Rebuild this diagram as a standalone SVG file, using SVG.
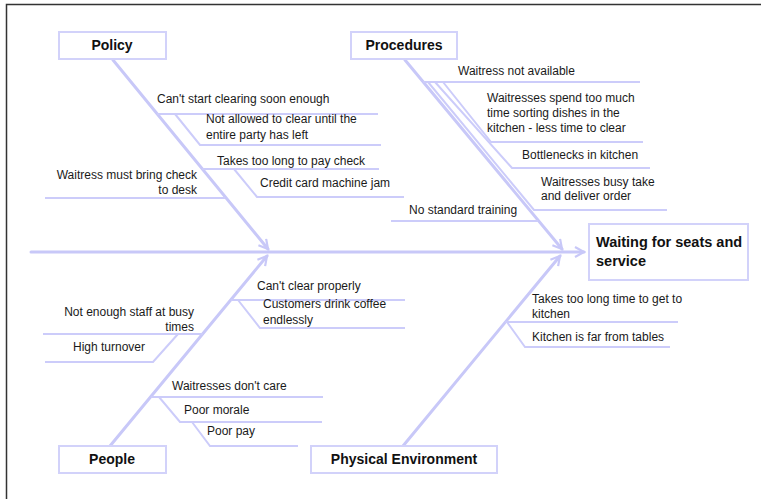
<svg xmlns="http://www.w3.org/2000/svg" width="761" height="499" viewBox="0 0 761 499">
  <defs>
    <marker id="chev" markerUnits="userSpaceOnUse" markerWidth="14" markerHeight="14" refX="10" refY="6" orient="auto">
      <path d="M1,1 L10,6 L1,11" fill="none" stroke="#c8c8f8" stroke-width="2.2"/>
    </marker>
  </defs>
  <style>
    .frame { stroke: #333; stroke-width: 1.5; fill: none; }
    .box { fill: #fff; stroke: #d2d2fa; stroke-width: 2; }
    .bone { stroke: #c8c8f8; stroke-width: 3; fill: none; stroke-linecap: round; }
    .rib { stroke: #ccccfa; stroke-width: 2; fill: none; }
    .cat { font-family: "Liberation Sans", Arial, sans-serif; font-size: 14px; font-weight: bold; fill: #111; text-anchor: middle; }
    .head { font-family: "Liberation Sans", Arial, sans-serif; font-size: 14.5px; font-weight: bold; fill: #111; }
    .lbl { font-family: "Liberation Sans", Arial, sans-serif; font-size: 12px; fill: #1a1a1a; }
    .rt { text-anchor: end; }
  </style>

  <rect width="761" height="499" fill="#fff"/>
  <path class="frame" d="M6.5,499 L6.5,4.5 L761,4.5"/>

  <!-- fishbone lines -->
  <g id="connectors">
    <!-- spine -->
    <line class="bone" x1="31" y1="252" x2="584" y2="252" marker-end="url(#chev)"/>
    <!-- main bones -->
    <line class="bone" x1="113" y1="60" x2="268" y2="249" marker-end="url(#chev)"/>
    <line class="bone" x1="405" y1="60" x2="562" y2="249" marker-end="url(#chev)"/>
    <line class="bone" x1="110" y1="446" x2="267" y2="256" marker-end="url(#chev)"/>
    <line class="bone" x1="403" y1="446" x2="560" y2="256" marker-end="url(#chev)"/>

    <!-- Policy ribs -->
    <path class="rib" d="M157,114 H378"/>
    <path class="rib" d="M175,114 L200,145 H381"/>
    <path class="rib" d="M202,169 H379"/>
    <path class="rib" d="M234,169 L257,197 H404"/>
    <path class="rib" d="M45,198 H225"/>

    <!-- Procedures ribs -->
    <path class="rib" d="M423,82 H640"/>
    <path class="rib" d="M443,82 L491,142 H643"/>
    <path class="rib" d="M435,82 L512,168 H650"/>
    <path class="rib" d="M428,82 L534,210 H667"/>
    <path class="rib" d="M391,221 H538"/>

    <!-- People ribs -->
    <path class="rib" d="M231,300 H405"/>
    <path class="rib" d="M238,300 L260,328 H405"/>
    <path class="rib" d="M43,334 H203"/>
    <path class="rib" d="M45,362 H153 L178,334"/>
    <path class="rib" d="M151,397 H323"/>
    <path class="rib" d="M159,397 L180,422 H322"/>
    <path class="rib" d="M192,422 L210,446 H298"/>

    <!-- Physical Environment ribs -->
    <path class="rib" d="M505,322 H678"/>
    <path class="rib" d="M507,322 L525,347 H670"/>
  </g>

  <!-- effect -->
  <g id="effect">
    <rect class="box" x="589" y="224" width="159" height="56"/>
    <text class="head" x="596" y="247">Waiting for seats and</text>
    <text class="head" x="596" y="266">service</text>
  </g>

  <!-- categories -->
  <g id="policy">
    <rect class="box" x="59" y="32" width="107" height="27"/>
    <text class="cat" x="112" y="50">Policy</text>
  </g>
  <g id="procedures">
    <rect class="box" x="351" y="32" width="106" height="27"/>
    <text class="cat" x="404" y="50">Procedures</text>
  </g>
  <g id="people">
    <rect class="box" x="59" y="446" width="107" height="27"/>
    <text class="cat" x="112" y="464">People</text>
  </g>
  <g id="physical-environment">
    <rect class="box" x="311" y="446" width="186" height="27"/>
    <text class="cat" x="404" y="464">Physical Environment</text>
  </g>

  <!-- causes: Policy -->
  <g id="c-cant-start"><text class="lbl" x="157" y="103">Can't start clearing soon enough</text></g>
  <g id="c-not-allowed">
    <text class="lbl" x="206" y="123">Not allowed to clear until the</text>
    <text class="lbl" x="206" y="139">entire party has left</text>
  </g>
  <g id="c-pay-check"><text class="lbl" x="217" y="165">Takes too long to pay check</text></g>
  <g id="c-card-jam"><text class="lbl" x="260" y="187">Credit card machine jam</text></g>
  <g id="c-bring-check">
    <text class="lbl rt" x="197" y="179">Waitress must bring check</text>
    <text class="lbl rt" x="197" y="194">to desk</text>
  </g>

  <!-- causes: Procedures -->
  <g id="c-not-available"><text class="lbl" x="458" y="75">Waitress not available</text></g>
  <g id="c-sorting">
    <text class="lbl" x="487" y="102">Waitresses spend too much</text>
    <text class="lbl" x="487" y="117">time sorting dishes in the</text>
    <text class="lbl" x="487" y="132">kitchen - less time to clear</text>
  </g>
  <g id="c-bottlenecks"><text class="lbl" x="522" y="159">Bottlenecks in kitchen</text></g>
  <g id="c-busy">
    <text class="lbl" x="541" y="186">Waitresses busy take</text>
    <text class="lbl" x="541" y="200">and deliver order</text>
  </g>
  <g id="c-training"><text class="lbl" x="409" y="214">No standard training</text></g>

  <!-- causes: People -->
  <g id="c-cant-clear"><text class="lbl" x="257" y="290">Can't clear properly</text></g>
  <g id="c-coffee">
    <text class="lbl" x="263" y="308">Customers drink coffee</text>
    <text class="lbl" x="263" y="324">endlessly</text>
  </g>
  <g id="c-staff">
    <text class="lbl rt" x="194" y="316">Not enough staff at busy</text>
    <text class="lbl rt" x="194" y="331">times</text>
  </g>
  <g id="c-turnover"><text class="lbl" x="73" y="351">High turnover</text></g>
  <g id="c-dont-care"><text class="lbl" x="172" y="390">Waitresses don't care</text></g>
  <g id="c-morale"><text class="lbl" x="184" y="414">Poor morale</text></g>
  <g id="c-pay"><text class="lbl" x="207" y="435">Poor pay</text></g>

  <!-- causes: Physical Environment -->
  <g id="c-far-kitchen">
    <text class="lbl" x="532" y="303">Takes too long time to get to</text>
    <text class="lbl" x="532" y="318">kitchen</text>
  </g>
  <g id="c-far-tables"><text class="lbl" x="532" y="341">Kitchen is far from tables</text></g>
</svg>
